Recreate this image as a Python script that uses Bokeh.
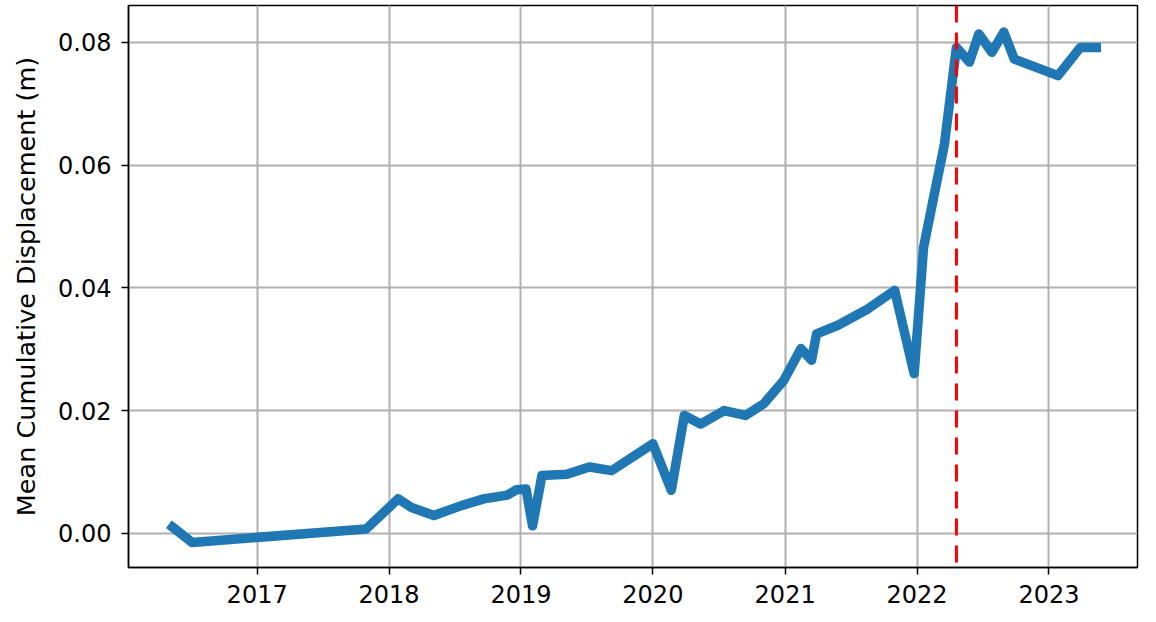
import pandas as pd
from bokeh.plotting import figure
from bokeh.models import (Range1d, FixedTicker, PrintfTickFormatter, DatetimeTickFormatter,
                          YearsTicker, Span)
from bokeh.embed import file_html
from bokeh.resources import INLINE

dates = ["2016-05-12", "2016-07-05", "2017-10-30", "2018-01-26", "2018-03-04", "2018-05-05",
         "2018-07-20", "2018-09-20", "2018-11-24", "2018-12-20", "2019-01-15", "2019-02-02",
         "2019-02-28", "2019-05-08", "2019-07-09", "2019-09-09", "2020-01-01", "2020-02-21",
         "2020-03-28", "2020-05-12", "2020-07-16", "2020-09-13", "2020-11-03", "2020-12-28",
         "2021-02-14", "2021-03-15", "2021-03-29", "2021-05-27", "2021-08-19", "2021-10-31",
         "2021-12-24", "2022-01-19", "2022-03-18", "2022-04-20", "2022-05-26", "2022-06-21",
         "2022-07-27", "2022-08-29", "2022-09-27", "2023-01-26", "2023-03-29", "2023-05-12"]
displacement = [0.0010, -0.0015, 0.0007, 0.0056, 0.0042, 0.0029,
                0.0045, 0.0056, 0.0062, 0.0071, 0.0072, 0.0012,
                0.0094, 0.0096, 0.0108, 0.0102, 0.0146, 0.0070,
                0.0192, 0.0178, 0.0200, 0.0192, 0.0211, 0.0249,
                0.0301, 0.0282, 0.0325, 0.0339, 0.0366, 0.0396,
                0.0260, 0.0466, 0.0635, 0.0792, 0.0768, 0.0814,
                0.0784, 0.0817, 0.0773, 0.0746, 0.0792, 0.0792]
event_date = "2022-04-20"
y_ticks = [0.00, 0.02, 0.04, 0.06, 0.08]
y_label = "Mean Cumulative Displacement (m)"

x = pd.to_datetime(dates)

p = figure(width=1150, height=615, output_backend="svg", toolbar_location=None,
           x_axis_type="datetime",
           x_range=Range1d(pd.Timestamp("2016-01-11"), pd.Timestamp("2023-09-03")),
           y_range=Range1d(-0.00559, 0.08603),
           frame_width=1009, frame_height=562,
           min_border_left=128, min_border_top=5, min_border_right=13, min_border_bottom=48)

p.line(x, displacement, line_color="#1f77b4", line_width=9.5, line_join="round", line_cap="square")

p.add_layout(Span(location=pd.Timestamp(event_date), dimension="height",
                  line_color="#ff0000", line_width=3, line_dash="17 10"))

font = "DejaVu Sans"
p.xaxis.ticker = YearsTicker(desired_num_ticks=8)
p.xaxis.formatter = DatetimeTickFormatter(years="%Y", months="%Y", days="%Y")
p.yaxis.ticker = FixedTicker(ticks=y_ticks)
p.yaxis.formatter = PrintfTickFormatter(format="%.2f")
p.yaxis.axis_label = y_label

for ax in (p.xaxis[0], p.yaxis[0]):
    ax.major_label_text_font = font
    ax.major_label_text_font_size = "24px"
    ax.major_label_text_color = "black"
    ax.axis_label_text_font = font
    ax.axis_label_text_font_size = "25.5px"
    ax.axis_label_text_font_style = "normal"
    ax.axis_label_text_color = "black"
    ax.axis_line_color = "black"
    ax.axis_line_width = 1.5
    ax.major_tick_line_color = "black"
    ax.major_tick_line_width = 1.5
    ax.major_tick_in = 0
    ax.major_tick_out = 7
    ax.minor_tick_line_color = None

p.yaxis.major_label_standoff = 10
p.xaxis.major_label_standoff = 10
p.yaxis.axis_label_standoff = 14

p.xgrid.ticker = p.xaxis[0].ticker
p.ygrid.ticker = p.yaxis[0].ticker
p.grid.grid_line_color = "#b0b0b0"
p.grid.grid_line_width = 2

p.outline_line_color = "black"
p.outline_line_width = 1.5
p.outline_line_alpha = 1
p.background_fill_color = "white"
p.border_fill_color = "white"

open("out.html", "w").write(file_html(p, INLINE))
